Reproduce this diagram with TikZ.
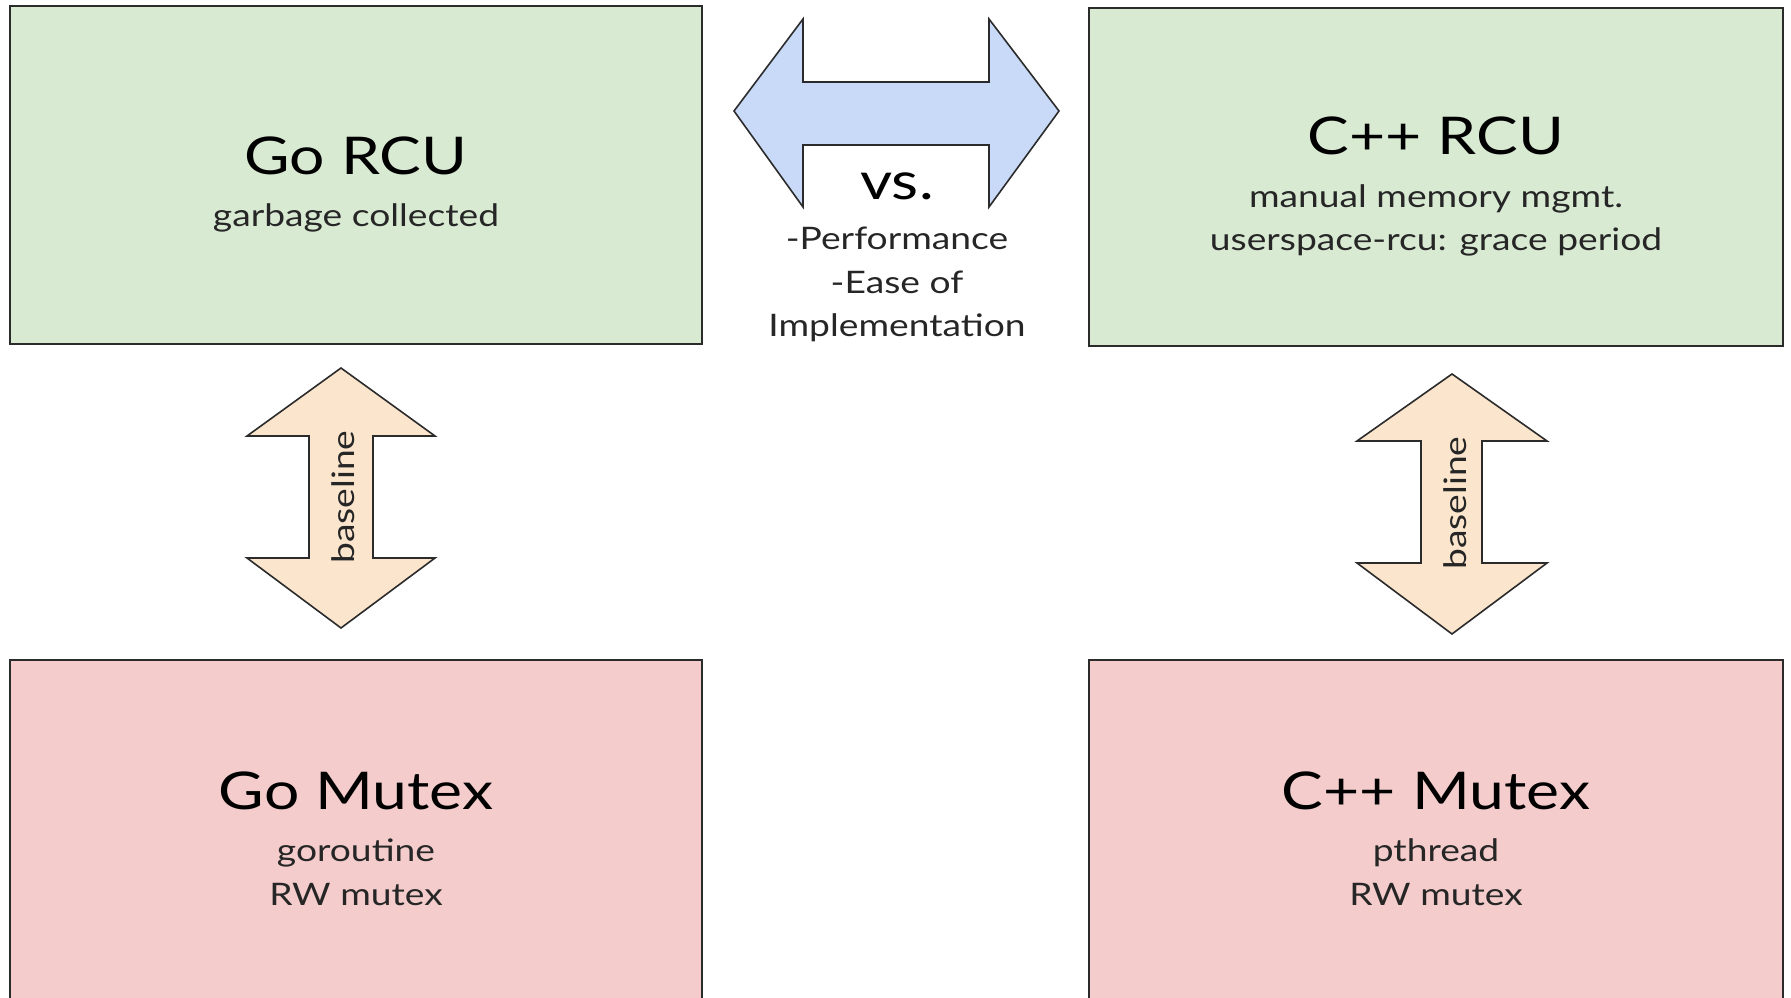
\documentclass[tikz,border=0pt]{standalone}
\usepackage{fontspec}
\setmainfont{Lato}[FakeStretch=1.2]

\definecolor{rcugreen}{HTML}{D9EAD3}
\definecolor{mutexred}{HTML}{F4CCCC}
\definecolor{vsblue}{HTML}{C9DAF8}
\definecolor{basetan}{HTML}{FCE5CD}
\definecolor{edge}{HTML}{2B2B2B}

\tikzset{
  panel/.style={draw=edge, line width=1.6pt, minimum width=692pt, minimum height=338pt, inner sep=0pt},
  boxtitle/.style={anchor=base, inner sep=0pt, text=black, font=\fontsize{52}{60}\selectfont},
  boxsub/.style={anchor=base, inner sep=0pt, text=black!85, font=\fontsize{31}{43}\selectfont},
  blockarrow/.style={draw=edge, line width=1.6pt, line join=miter},
}

\begin{document}
\begin{tikzpicture}[x=1pt, y=-1pt]
    \useasboundingbox (0,0) rectangle (1791,998);
    \clip (0,0) rectangle (1791,998);
    \fill[white] (0,0) rectangle (1791,998);

    % the four boxes
    \node[panel, fill=rcugreen] (gorcu) at (356,175) {};
    \node[panel, fill=rcugreen, minimum width=694pt] (cpprcu) at (1436,177) {};
    \node[panel, fill=mutexred, minimum height=358pt] (gomutex) at (356,839) {};
    \node[panel, fill=mutexred, minimum width=694pt, minimum height=358pt] (cppmutex) at (1436,839) {};

    \node[boxtitle] (gorcutitle) at (356,174) {Go RCU};
    \node[boxsub] (gorcusub) at (356,226) {garbage collected};

    \node[boxtitle] (cpprcutitle) at (1436,154) {C++ RCU};
    \node[boxsub] (cpprcusub) at (1436,207) {manual memory mgmt.};
    \node[boxsub] (cpprcusubb) at (1436,250) {userspace-rcu: grace period};

    \node[boxtitle] (gomutextitle) at (356,809) {Go Mutex};
    \node[boxsub] (gomutexsub) at (356,861) {goroutine};
    \node[boxsub] (gomutexsubb) at (356,905) {RW mutex};

    \node[boxtitle] (cppmutextitle) at (1436,809) {C++ Mutex};
    \node[boxsub] (cppmutexsub) at (1436,861) {pthread};
    \node[boxsub] (cppmutexsubb) at (1436,905) {RW mutex};

    % vs. arrow
    \draw[blockarrow, fill=vsblue] (734,111) -- (803,19) -- (803,82) -- (989,82) -- (989,19)
        -- (1059,111) -- (989,207) -- (989,145) -- (803,145) -- (803,207) -- cycle;
    \node[boxtitle] (vs) at (897,199) {vs.};
    \node[boxsub] (perf) at (897,249) {-Performance};
    \node[boxsub] (ease) at (897,293) {-Ease of};
    \node[boxsub] (impl) at (897,336) {Implementation};

    % baseline arrows
    \draw[blockarrow, fill=basetan] (341,368) -- (435,436) -- (373,436) -- (373,558) -- (435,558)
        -- (341,628) -- (247,558) -- (309,558) -- (309,436) -- (247,436) -- cycle;
    \node[boxsub, anchor=center, rotate=90] (gobase) at (343,497) {baseline};

    \draw[blockarrow, fill=basetan] (1452,374) -- (1547,441) -- (1482,441) -- (1482,563) -- (1547,563)
        -- (1452,634) -- (1357,563) -- (1421,563) -- (1421,441) -- (1357,441) -- cycle;
    \node[boxsub, anchor=center, rotate=90] (cppbase) at (1455,503) {baseline};
\end{tikzpicture}
\end{document}
